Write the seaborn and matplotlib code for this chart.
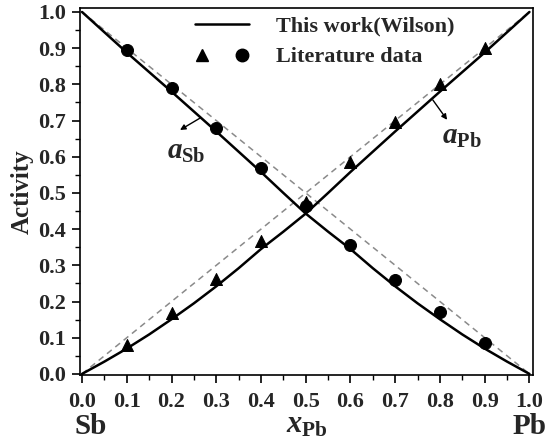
import numpy as np
import pandas as pd
import matplotlib
matplotlib.use("Agg")
import matplotlib.pyplot as plt
from matplotlib.lines import Line2D
from matplotlib.legend_handler import HandlerTuple
from matplotlib.ticker import MultipleLocator, FormatStrFormatter
import seaborn as sns

# ============ Data ============
x_fit = [0.0, 0.05, 0.1, 0.15, 0.2, 0.25, 0.3, 0.35, 0.4, 0.45, 0.5,
         0.55, 0.6, 0.65, 0.7, 0.75, 0.8, 0.85, 0.9, 0.95, 1.0]
a_pb_fit = [0.0, 0.034, 0.07, 0.109, 0.151, 0.195, 0.242, 0.292, 0.345, 0.393, 0.443,
            0.50, 0.558, 0.614, 0.67, 0.725, 0.78, 0.834, 0.888, 0.944, 1.0]
a_sb_fit = [1.0, 0.944, 0.888, 0.834, 0.78, 0.725, 0.67, 0.614, 0.558, 0.50, 0.443,
            0.393, 0.345, 0.292, 0.242, 0.195, 0.151, 0.109, 0.07, 0.034, 0.0]

x_lit = [0.1, 0.2, 0.3, 0.4, 0.5, 0.6, 0.7, 0.8, 0.9]
a_pb_lit = [0.08, 0.168, 0.263, 0.368, 0.476, 0.586, 0.696, 0.802, 0.90]
a_sb_lit = [0.895, 0.79, 0.68, 0.569, 0.465, 0.356, 0.26, 0.17, 0.086]

x_ideal = [0.0, 1.0]
a_pb_ideal = [0.0, 1.0]
a_sb_ideal = [1.0, 0.0]

fit = pd.DataFrame({"x": x_fit, "pb": a_pb_fit, "sb": a_sb_fit})
lit = pd.DataFrame({"x": x_lit, "pb": a_pb_lit, "sb": a_sb_lit})
ideal = pd.DataFrame({"x": x_ideal, "pb": a_pb_ideal, "sb": a_sb_ideal})

# ============ Style ============
sns.set_theme(style="ticks")
plt.rcParams["font.family"] = ["Liberation Serif", "DejaVu Serif"]
plt.rcParams["font.weight"] = "bold"
plt.rcParams["mathtext.fontset"] = "custom"
plt.rcParams["mathtext.it"] = "Liberation Serif:italic:bold"
plt.rcParams["mathtext.rm"] = "Liberation Serif:bold"
plt.rcParams["mathtext.bf"] = "Liberation Serif:bold"

fig = plt.figure(figsize=(5.5, 4.42), dpi=100)
ax = fig.add_axes([0.1455, 0.1516, 0.8236, 0.8303])

# ideal (Raoult) lines
for col in ["pb", "sb"]:
    sns.lineplot(data=ideal, x="x", y=col, ax=ax, color="#8a8a8a",
                 linestyle=(0, (4, 3)), linewidth=1.1, sort=False, estimator=None)

# Wilson curves
for col in ["pb", "sb"]:
    sns.lineplot(data=fit, x="x", y=col, ax=ax, color="black",
                 linewidth=1.8, sort=False, estimator=None)

# literature data
sns.scatterplot(data=lit, x="x", y="pb", ax=ax, marker="^", s=75,
                color="black", edgecolor="black", zorder=5)
sns.scatterplot(data=lit, x="x", y="sb", ax=ax, marker="o", s=75,
                color="black", edgecolor="black", zorder=5)

ax.set_xlim(-0.0045, 1.008)
ax.set_ylim(-0.003, 1.011)
ax.xaxis.set_major_locator(MultipleLocator(0.1))
ax.xaxis.set_minor_locator(MultipleLocator(0.05))
ax.yaxis.set_major_locator(MultipleLocator(0.1))
ax.yaxis.set_minor_locator(MultipleLocator(0.05))
ax.xaxis.set_major_formatter(FormatStrFormatter("%.1f"))
ax.yaxis.set_major_formatter(FormatStrFormatter("%.1f"))
ax.tick_params(which="major", direction="out", length=6, width=1.2,
               labelsize=16, pad=4, color="black")
ax.tick_params(axis="x", which="major", pad=6)
ax.tick_params(which="minor", direction="out", length=3.5, width=1.0, color="black")
for lab in ax.get_xticklabels() + ax.get_yticklabels():
    lab.set_fontweight("bold")
for sp in ax.spines.values():
    sp.set_visible(True)
    sp.set_linewidth(1.2)
    sp.set_color("black")

ax.set_xlabel("")
ax.set_ylabel("Activity", fontsize=18, fontweight="bold", labelpad=3)
fig.text(0.557, 0.022, r"$x_{\mathrm{Pb}}$", fontsize=22, ha="center", va="baseline")
fig.text(0.164, 0.004, "Sb", fontsize=21, fontweight="bold", ha="center", va="bottom")
fig.text(0.962, 0.004, "Pb", fontsize=21, fontweight="bold", ha="center", va="bottom")

# curve labels with small arrows
arrow = dict(arrowstyle="-|>", color="black", lw=1.0, mutation_scale=8,
             shrinkA=0, shrinkB=0)
ax.annotate("", xy=(0.219, 0.674), xytext=(0.264, 0.707), arrowprops=arrow)
ax.text(0.19, 0.615, r"$a_{\mathrm{Sb}}$", fontsize=21, ha="left", va="center")
ax.annotate("", xy=(0.816, 0.702), xytext=(0.784, 0.757), arrowprops=arrow)
ax.text(0.805, 0.655, r"$a_{\mathrm{Pb}}$", fontsize=21, ha="left", va="center")

# legend
h_line = Line2D([], [], color="black", linewidth=1.8)
h_tri = Line2D([], [], color="black", marker="^", linestyle="none", markersize=9)
h_cir = Line2D([], [], color="black", marker="o", linestyle="none", markersize=9)
ax.legend([h_line, (h_tri, h_cir)], ["This work(Wilson)", "Literature data"],
          handler_map={tuple: HandlerTuple(ndivide=None, pad=1.2)},
          loc="upper left", bbox_to_anchor=(0.22, 1.02), frameon=False,
          prop={"family": "Liberation Serif", "weight": "bold", "size": 16},
          handlelength=2.4, handletextpad=1.25, labelspacing=0.45, borderpad=0.2)

fig.savefig("out.png", dpi=100)
